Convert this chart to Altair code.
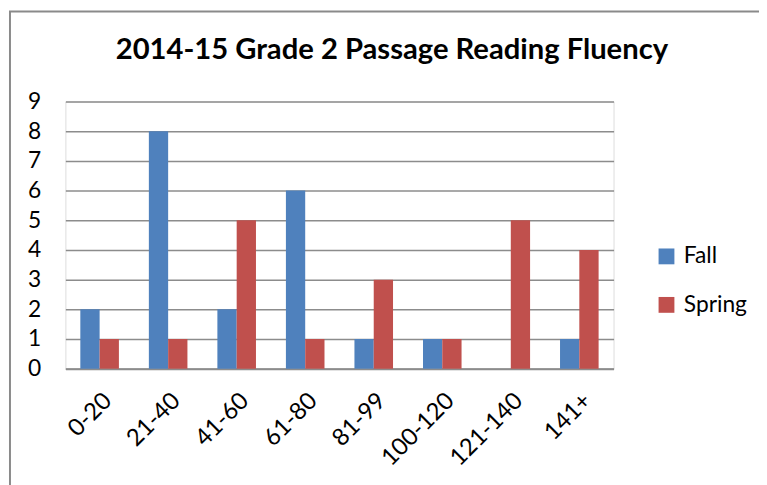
import altair as alt
import pandas as pd

categories = ["0-20", "21-40", "41-60", "61-80", "81-99", "100-120", "121-140", "141+"]
fall = [2, 8, 2, 6, 1, 1, 0, 1]
spring = [1, 1, 5, 1, 3, 1, 5, 4]
series = ["Fall", "Spring"]
colors = ["#4F81BD", "#C0504D"]
title_text = "2014-15 Grade 2 Passage Reading Fluency"

rows = []
for c, f, s in zip(categories, fall, spring):
    rows.append({"range": c, "series": "Fall", "count": f})
    rows.append({"range": c, "series": "Spring", "count": s})
df = pd.DataFrame(rows)

FONT = "Lato"

bars = alt.Chart(df).mark_bar().encode(
    x=alt.X("range:N", sort=categories,
            scale=alt.Scale(paddingInner=0.437, paddingOuter=0.218),
            axis=alt.Axis(title=None, labelAngle=-45, labelFontSize=24,
                          labelFont=FONT, labelColor="#000", labelPadding=20,
                          ticks=False, domainColor="#8c8c8c", domainWidth=2,
                          labelAlign="right", labelBaseline="top")),
    xOffset=alt.XOffset("series:N", sort=series,
                        scale=alt.Scale(paddingInner=0, paddingOuter=0)),
    y=alt.Y("count:Q", scale=alt.Scale(domain=[0, 9], nice=False),
            axis=alt.Axis(title=None, values=list(range(10)), tickCount=10,
                          labelFontSize=23, labelFont=FONT, labelColor="#000",
                          labelPadding=25, ticks=False, domain=False,
                          gridColor="#8c8c8c", gridWidth=1.5)),
    color=alt.Color("series:N", sort=series,
                    scale=alt.Scale(domain=series, range=colors),
                    legend=alt.Legend(title=None, orient="none", legendX=596,
                                      legendY=145, symbolType="square",
                                      symbolSize=256, symbolStrokeWidth=0,
                                      labelFontSize=23, labelFont=FONT,
                                      labelColor="#000", rowPadding=25,
                                      labelOffset=6)),
)

title = alt.Chart(alt.Data(values=[{"t": title_text}])).mark_text(
    font=FONT, fontSize=29.5, fontWeight="bold", color="#000",
    align="center", baseline="alphabetic"
).encode(x=alt.value(330), y=alt.value(-43), text="t:N")

frame = alt.Chart(alt.Data(values=[{}])).mark_rule(color="#8a8a8a", strokeWidth=2).encode(
    x=alt.value(-57), x2=alt.value(720), y=alt.value(-91), y2=alt.value(-91)
)
frame2 = alt.Chart(alt.Data(values=[{}])).mark_rule(color="#8a8a8a", strokeWidth=2).encode(
    x=alt.value(-56), x2=alt.value(-56), y=alt.value(-91), y2=alt.value(400)
)

chart = alt.layer(bars, title, frame, frame2).properties(
    width=554, height=270,
    autosize=alt.AutoSizeParams(type="none"),
    padding={"left": 58, "top": 92, "right": 147, "bottom": 115},
).configure_view(stroke=None).configure(background="white")

chart.save("out.html", embed_options={"renderer": "svg", "actions": False})
